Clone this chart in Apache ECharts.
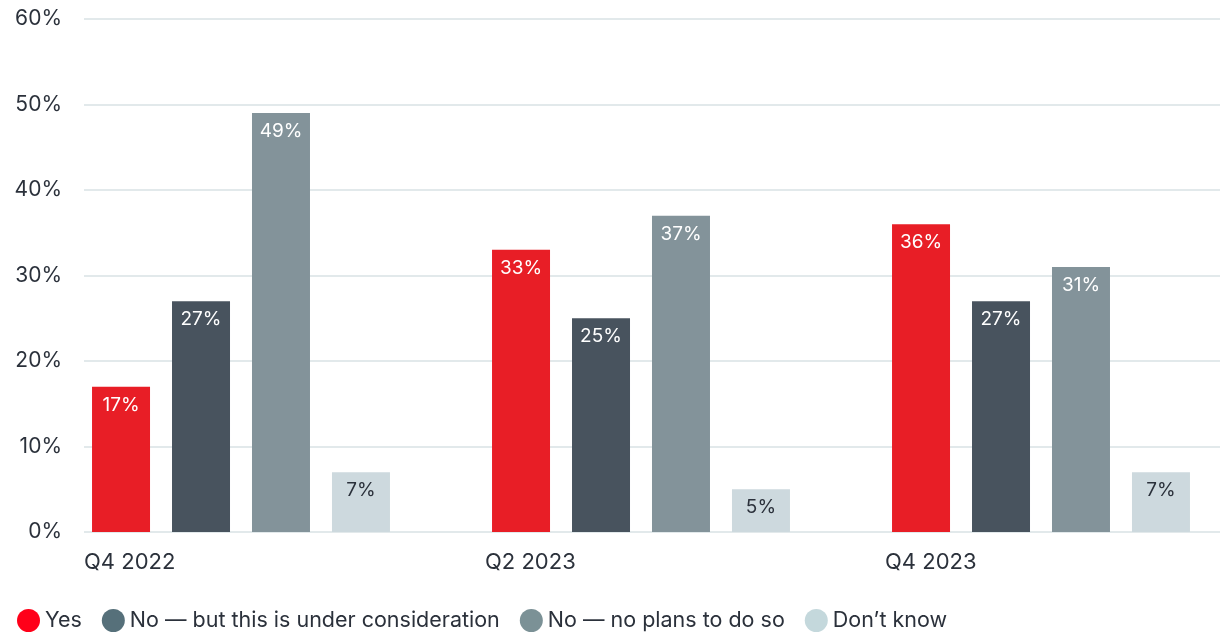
<!DOCTYPE html>
<html>
<head>
<meta charset="utf-8">
<script src="https://cdn.jsdelivr.net/npm/echarts@6/dist/echarts.min.js"></script>
<style>
  html, body { margin: 0; padding: 0; background: #fff; }
  #chart { width: 1220px; height: 633px; }
</style>
</head>
<body>
<div id="chart"></div>
<script>
// Survey waves and answer shares (%)
const categories = ['Q4 2022', 'Q2 2023', 'Q4 2023'];
const seriesNames = ['Yes', 'No — but this is under consideration', 'No — no plans to do so', 'Don’t know'];
const yesValues = [17, 33, 36];
const considerValues = [27, 25, 27];
const noPlanValues = [49, 37, 31];
const dontKnowValues = [7, 5, 7];
const yTicks = [0, 10, 20, 30, 40, 50, 60];

const barColors = ['#e81e26', '#48535e', '#83939a', '#cdd9de'];
const legendColors = ['#ff0019', '#56707a', '#7b9196', '#c4d8dc'];
const labelColors = ['#ffffff', '#ffffff', '#ffffff', '#2b313b'];
const FONT = 'Inter, "Noto Sans", sans-serif';

const seriesValues = [yesValues, considerValues, noPlanValues, dontKnowValues];

// x is a value axis in "wave" units (400px per wave); each wave's bar group is
// centred on its index, and the wave label sits at the left edge of its slot.
const X_MIN = -0.3925;
const X_MAX = X_MIN + 1136 / 400;

const chart = echarts.init(document.getElementById('chart'), null, { renderer: 'canvas' });

chart.setOption({
  animation: false,
  textStyle: { fontFamily: FONT },
  grid: { left: 84, right: 0, top: 19, bottom: 101 },
  xAxis: {
    type: 'value', min: X_MIN, max: X_MAX, interval: 1,
    axisLine: { show: false }, axisTick: { show: false }, splitLine: { show: false },
    axisLabel: {
      showMinLabel: true, showMaxLabel: false, align: 'left', margin: 19,
      fontSize: 22, color: '#2b313b', fontFamily: FONT,
      formatter: (v, idx) => categories[idx] || ''
    }
  },
  yAxis: {
    type: 'value', min: yTicks[0], max: yTicks[yTicks.length - 1], interval: 10,
    axisLine: { show: false }, axisTick: { show: false },
    axisLabel: { formatter: '{value}%', fontSize: 21, color: '#2b313b', margin: 22, fontFamily: FONT },
    splitLine: { lineStyle: { color: '#d8e2e5', width: 1.5 } }
  },
  legend: {
    left: 12, top: 604, itemWidth: 23, itemHeight: 23, itemGap: 20,
    icon: 'circle',
    textStyle: { fontSize: 21.5, color: '#2b313b', fontFamily: FONT },
    data: seriesNames.map((n, i) => ({ name: n, itemStyle: { color: legendColors[i] } }))
  },
  series: seriesNames.map((name, i) => ({
    name,
    type: 'bar',
    data: seriesValues[i].map((v, k) => [k, v]),
    barWidth: 58,
    barGap: '37.9%',
    itemStyle: { color: barColors[i] },
    label: {
      show: true, position: 'insideTop', distance: 9,
      formatter: p => p.value[1] + '%', fontSize: 19, color: labelColors[i], fontFamily: FONT
    }
  }))
});
</script>
</body>
</html>
